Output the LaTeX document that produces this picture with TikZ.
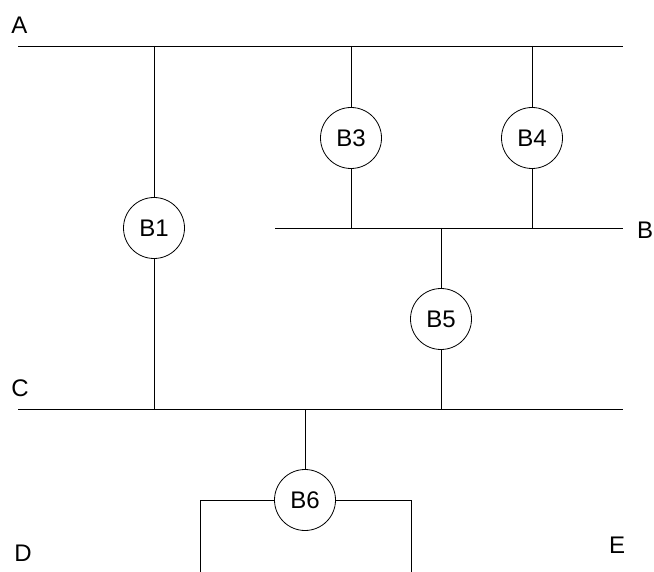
\documentclass[tikz,border=0pt]{standalone}
\usepackage{fontspec}
\setmainfont{Liberation Sans}
\begin{document}
\begin{tikzpicture}[x=1pt,y=-1pt,
  wire/.style={draw=black,line width=0.8pt},
  breaker/.style={circle,draw=black,line width=0.8pt,minimum size=61pt,inner sep=0pt,font=\fontsize{24}{28}\selectfont},
  lbl/.style={font=\fontsize{24}{28}\selectfont,inner sep=0pt}]
\useasboundingbox (0,0) rectangle (654,572);
% buses
\coordinate (A1) at (18,46); \coordinate (A2) at (623,46);
\coordinate (Bs1) at (275,228); \coordinate (Bs2) at (623,228);
\coordinate (C1) at (18,409); \coordinate (C2) at (623,409);
\coordinate (dl) at (200,572); \coordinate (el) at (411,572);
% breakers
\node[breaker] (b1) at (154,228) {B1};
\node[breaker] (b3) at (351,138) {B3};
\node[breaker] (b4) at (532,138) {B4};
\node[breaker] (b5) at (441,319) {B5};
\node[breaker] (b6) at (305,500) {B6};
% labels
\node[lbl] (la) at (19.5,25) {A};
\node[lbl] (lb) at (645,230) {B};
\node[lbl] (lc) at (20,388) {C};
\node[lbl] (ld) at (23,553) {D};
\node[lbl] (le) at (617,545) {E};
% wires
\draw[wire] (A1) -- (A2);
\draw[wire] (Bs1) -- (Bs2);
\draw[wire] (C1) -- (C2);
\draw[wire] (b1 |- A1) -- (b1.north);
\draw[wire] (b1.south) -- (b1 |- C1);
\draw[wire] (b3 |- A1) -- (b3.north);
\draw[wire] (b3.south) -- (b3 |- Bs1);
\draw[wire] (b4 |- A1) -- (b4.north);
\draw[wire] (b4.south) -- (b4 |- Bs1);
\draw[wire] (b5 |- Bs1) -- (b5.north);
\draw[wire] (b5.south) -- (b5 |- C1);
\draw[wire] (b6 |- C1) -- (b6.north);
\draw[wire] (dl) |- (b6.west);
\draw[wire] (el) |- (b6.east);
\end{tikzpicture}
\end{document}
